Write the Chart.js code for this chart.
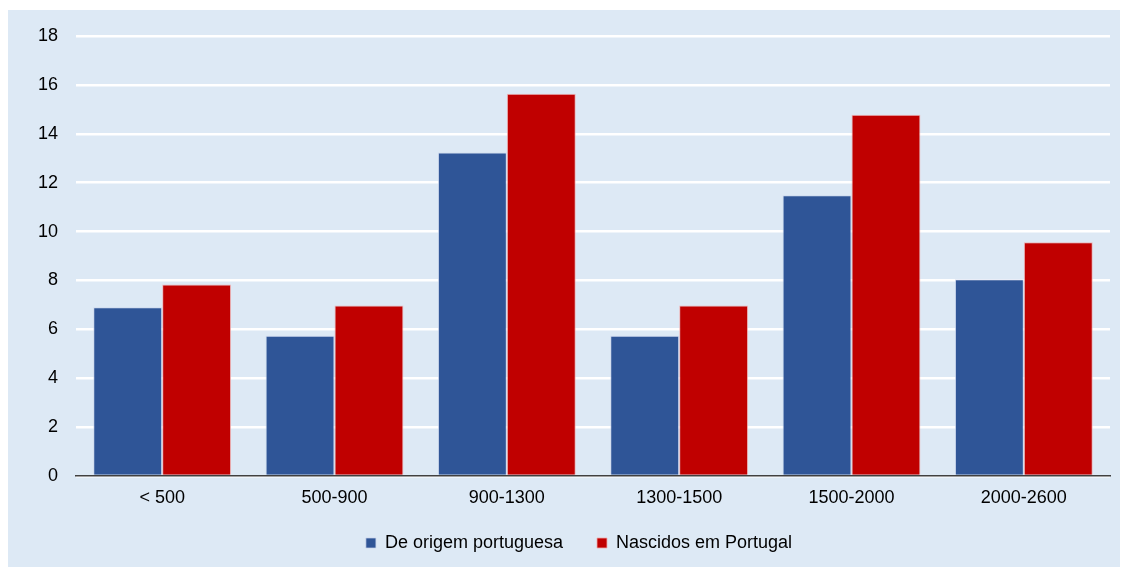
<!DOCTYPE html>
<html><head><meta charset="utf-8">
<script src="https://cdn.jsdelivr.net/npm/chart.js@4"></script>
<style>
html,body{margin:0;padding:0;background:#fff;overflow:hidden;}
#wrap{position:absolute;left:8px;top:10px;width:1112px;height:557px;background:#DDE9F5;overflow:hidden;}
canvas{display:block;}
</style></head>
<body>
<div id="wrap"><canvas id="c" width="1112" height="568"></canvas></div>
<script>
const categories = ["< 500","500-900","900-1300","1300-1500","1500-2000","2000-2600"];
const origemPortuguesa = [6.9, 5.74, 13.23, 5.74, 11.49, 8.05];
const nascidosPortugal = [7.83, 6.97, 15.64, 6.97, 14.78, 9.56];
const seriesNames = ["De origem portuguesa","Nascidos em Portugal"];
const yTicks = [0,2,4,6,8,10,12,14,16,18];

Chart.defaults.font.family = "'Liberation Sans', Arial, sans-serif";
Chart.defaults.font.size = 18;
Chart.defaults.color = '#000';

const shiftLegend = {
  id: 'shiftLegend',
  afterLayout(chart){
    const l = chart.legend;
    if (l){ l.left += 20; l.right += 20; l.top -= 12; l.bottom -= 12; }
  }
};

new Chart(document.getElementById('c'), {
  type: 'bar',
  data: {
    labels: categories,
    datasets: [
      {label: seriesNames[0], data: origemPortuguesa, backgroundColor: '#2F5597', borderColor: 'rgba(200,210,235,0.7)', borderWidth: 1, borderSkipped: 'bottom', categoryPercentage: 0.8, barPercentage: 1.0},
      {label: seriesNames[1], data: nascidosPortugal, backgroundColor: '#C00000', borderColor: 'rgba(240,170,170,0.8)', borderWidth: 1, borderSkipped: 'bottom', categoryPercentage: 0.8, barPercentage: 1.0}
    ]
  },
  plugins: [shiftLegend],
  options: {
    responsive: false,
    animation: false,
    layout: {padding: {left: 0, right: 10, top: 26, bottom: 4}},
    plugins: {
      legend: {
        position: 'bottom',
        labels: {boxWidth: 10, boxHeight: 10, padding: 34, color: '#000', font: {size: 18}}
      },
      tooltip: {enabled: false}
    },
    scales: {
      x: {
        grid: {display: false, drawTicks: false},
        border: {display: true, color: '#404040', width: 1.5},
        ticks: {padding: 11, color: '#000'},
        afterFit(s){ s.height = 36; }
      },
      y: {
        min: 0, max: 18,
        afterBuildTicks(s){ s.ticks = yTicks.map(v => ({value: v})); },
        grid: {color: '#ffffff', lineWidth: 2.5, drawTicks: false},
        border: {display: false},
        ticks: {padding: 18, color: '#000'},
        afterFit(s){ s.width = 68; s.paddingTop = 0; }
      }
    }
  }
});
</script>
</body></html>
